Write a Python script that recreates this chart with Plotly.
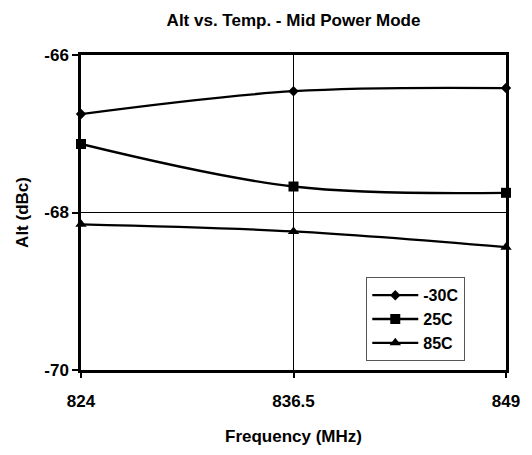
import plotly.graph_objects as go

freq = [824, 836.5, 849]
freq_labels = ["824", "836.5", "849"]
series_names = ["-30C", "25C", "85C"]
alt_m30 = [-66.75, -66.46, -66.42]
alt_25 = [-67.13, -67.67, -67.75]
alt_85 = [-68.15, -68.24, -68.44]
y_ticks = [-66, -68, -70]
y_tick_labels = ["-66", "-68", "-70"]

FONT = "Liberation Sans, Arial, sans-serif"
OFF = 8  # page body offset
W, H = 532 - OFF, 455 - OFF

L, R, T, B = 78 - OFF, W - (516 - OFF), 55 - OFF, H - (371 - OFF)
PW, PH = W - L - R, H - T - B

fig = go.Figure()
symbols = ["diamond", "square", "triangle-up"]
sizes = [8, 10, 10]
for name, ys, sym, sz in zip(series_names, [alt_m30, alt_25, alt_85], symbols, sizes):
    fig.add_trace(go.Scatter(
        x=freq, y=ys, name=name, mode="lines+markers",
        line=dict(color="black", width=2.3, shape="spline"),
        marker=dict(symbol=sym, size=sz, color="black"),
        cliponaxis=False,
    ))

fig.update_layout(
    width=W, height=H,
    margin=dict(l=L, r=R, t=T, b=B),
    paper_bgcolor="white", plot_bgcolor="white",
    font=dict(family=FONT, color="black"),
    title=dict(text="Alt vs. Temp. - Mid Power Mode", x=0.5, xref="paper", xanchor="center",
               y=1 - (20 - OFF) / H, yref="container", yanchor="middle",
               font=dict(size=17, weight="bold", family=FONT, color="black")),
    showlegend=True,
    legend=dict(x=(372 - 78) / PW, y=(371 - 278) / PH, xanchor="left", yanchor="top",
                bgcolor="white", bordercolor="#555555", borderwidth=1,
                font=dict(size=16, weight="bold", family=FONT, color="black"),
                itemwidth=46, tracegroupgap=0),
)
fig.update_xaxes(
    range=[824, 849], tickvals=freq, ticktext=freq_labels,
    showline=True, mirror=True, linecolor="black", linewidth=2.5,
    showgrid=True, gridcolor="black", gridwidth=1,
    ticks="outside", ticklen=5, tickwidth=2, tickcolor="black",
    ticklabelstandoff=9,
    tickfont=dict(size=17, weight="bold", family=FONT, color="black"),
    title=dict(text="Frequency (MHz)", font=dict(size=17, weight="bold", family=FONT, color="black"), standoff=20),
    zeroline=False,
)
fig.update_yaxes(
    range=[-70, -66], tickvals=y_ticks, ticktext=y_tick_labels,
    showline=True, mirror=True, linecolor="black", linewidth=2.5,
    showgrid=True, gridcolor="black", gridwidth=1,
    ticks="outside", ticklen=6, tickwidth=2, tickcolor="black",
    tickfont=dict(size=17, weight="bold", family=FONT, color="black"),
    title=dict(text="Alt (dBc)", font=dict(size=17, weight="bold", family=FONT, color="black"), standoff=12),
    zeroline=False,
)

fig.write_html("out.html")
